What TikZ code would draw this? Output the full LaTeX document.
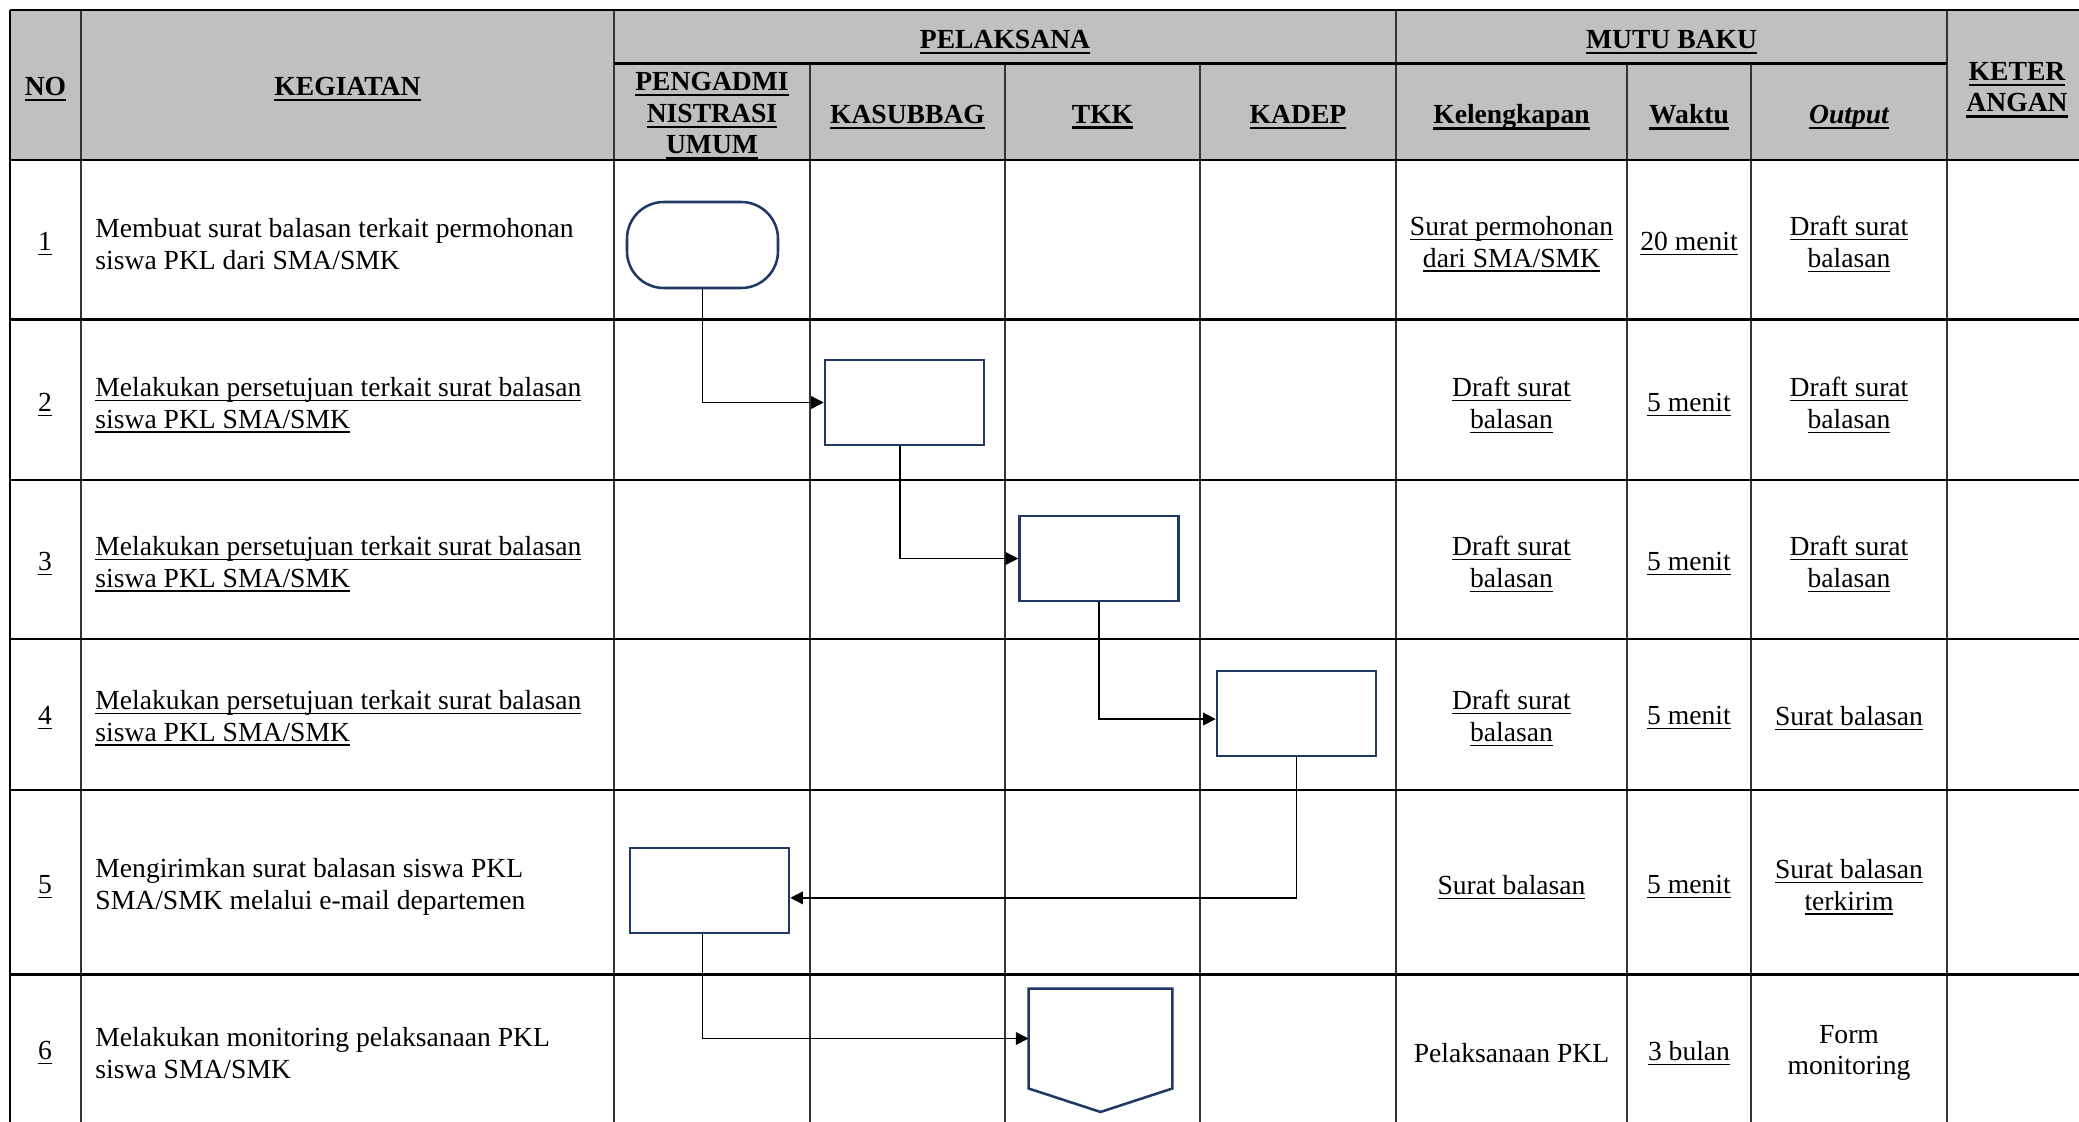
\documentclass[tikz,border=0pt]{standalone}
\usepackage{fontspec}
\setmainfont{Liberation Serif}
\usetikzlibrary{arrows.meta}
\definecolor{hdrgray}{RGB}{192,192,192}
\definecolor{navy}{RGB}{31,56,100}
\newcommand{\pu}{0.4348pt}
\newcommand{\ul}[1]{\setbox0\hbox{#1}\rlap{\rule[-1.9pt]{\wd0}{0.55pt}}\box0}
\newcommand{\ulb}[1]{\setbox0\hbox{#1}\rlap{\rule[-2.6pt]{\wd0}{1.1pt}}\box0}

\begin{document}
\begin{tikzpicture}[x=\pu, y=-\pu,
        hdr/.style={font=\fontsize{12}{13.8}\selectfont\bfseries, align=center, inner sep=0pt},
        cell/.style={font=\fontsize{12}{13.8}\selectfont, align=center, inner sep=0pt},
        act/.style={cell, anchor=west, align=left},
        shapeline/.style={draw=navy, line width=1.1pt, fill=white},
        procbox/.style={shapeline, rectangle, minimum width=159*\pu, minimum height=85*\pu, inner sep=0pt},
        termbox/.style={procbox, rounded corners=16pt, minimum width=151*\pu, minimum height=86*\pu},
        conn/.style={line width=0.6pt, -{Triangle[length=5.5pt, width=5.5pt]}},
        rowline/.style={line width=1.1pt},
        colline/.style={line width=0.5pt, black!80}
    ]
        \useasboundingbox (0,0) rectangle (2079,1121);
        \clip (0,0) rectangle (2079,1121);

        % table
        \fill[hdrgray] (10,10) rectangle (2095,160);
        \foreach \x in {81,614,1396,1947} \draw[colline] (\x,10) -- (\x,1130);
        \foreach \x in {810,1005,1200,1627,1751} \draw[colline] (\x,63.5) -- (\x,1130);
        \foreach \y in {10,160,319.5,480,639,790,974.5} \draw[rowline] (10,\y) -- (2095,\y);
        \draw[line width=0.9pt] (614,63.5) -- (1947,63.5);
        \draw[rowline] (10,10) -- (10,1130);

        % header
        \node[hdr] (hno)    at (45.5,89)  {\ulb{NO}};
        \node[hdr] (hkeg)   at (347.5,89) {\ulb{KEGIATAN}};
        \node[hdr] (hpel)   at (1005,42)  {\ulb{PELAKSANA}};
        \node[hdr] (hmutu)  at (1671.5,42) {\ulb{MUTU BAKU}};
        \node[hdr] (hket)   at (2017,90)  {\ulb{KETER}\\\ulb{ANGAN}};
        \node[hdr] (hpeng)  at (712,116)  {\ulb{PENGADMI}\\\ulb{NISTRASI}\\\ulb{UMUM}};
        \node[hdr] (hkasub) at (907.5,117) {\ulb{KASUBBAG}};
        \node[hdr] (htkk)   at (1102.5,117) {\ulb{TKK}};
        \node[hdr] (hkadep) at (1298,117) {\ulb{KADEP}};
        \node[hdr] (hkel)   at (1511.5,117) {\ulb{Kelengkapan}};
        \node[hdr] (hwak)   at (1689,117) {\ulb{Waktu}};
        \node[hdr] (hout)   at (1849,117) {\ulb{\itshape Output}};

        % row 1
        \node[cell] (no1)  at (45,244)   {\ul{1}};
        \node[act]  (keg1) at (95,244)   {Membuat surat balasan terkait permohonan\\siswa PKL dari SMA/SMK};
        \node[cell] (kel1) at (1511.5,244) {\ul{Surat permohonan}\\\ul{dari SMA/SMK}};
        \node[cell] (wak1) at (1689,244) {\ul{20 menit}};
        \node[cell] (out1) at (1849,244) {\ul{Draft surat}\\\ul{balasan}};
        % row 2
        \node[cell] (no2)  at (45,405)   {\ul{2}};
        \node[act]  (keg2) at (95,405)   {\ul{Melakukan persetujuan terkait surat balasan}\\\ul{siswa PKL SMA/SMK}};
        \node[cell] (kel2) at (1511.5,405) {\ul{Draft surat}\\\ul{balasan}};
        \node[cell] (wak2) at (1689,405) {\ul{5 menit}};
        \node[cell] (out2) at (1849,405) {\ul{Draft surat}\\\ul{balasan}};
        % row 3
        \node[cell] (no3)  at (45,564)   {\ul{3}};
        \node[act]  (keg3) at (95,564)   {\ul{Melakukan persetujuan terkait surat balasan}\\\ul{siswa PKL SMA/SMK}};
        \node[cell] (kel3) at (1511.5,564) {\ul{Draft surat}\\\ul{balasan}};
        \node[cell] (wak3) at (1689,564) {\ul{5 menit}};
        \node[cell] (out3) at (1849,564) {\ul{Draft surat}\\\ul{balasan}};
        % row 4
        \node[cell] (no4)  at (45,718)   {\ul{4}};
        \node[act]  (keg4) at (95,718)   {\ul{Melakukan persetujuan terkait surat balasan}\\\ul{siswa PKL SMA/SMK}};
        \node[cell] (kel4) at (1511.5,718) {\ul{Draft surat}\\\ul{balasan}};
        \node[cell] (wak4) at (1689,718) {\ul{5 menit}};
        \node[cell] (out4) at (1849,718) {\ul{Surat balasan}};
        % row 5
        \node[cell] (no5)  at (45,887)   {\ul{5}};
        \node[act]  (keg5) at (95,887)   {Mengirimkan surat balasan siswa PKL\\SMA/SMK melalui e-mail departemen};
        \node[cell] (kel5) at (1511.5,887) {\ul{Surat balasan}};
        \node[cell] (wak5) at (1689,887) {\ul{5 menit}};
        \node[cell] (out5) at (1849,887) {\ul{Surat balasan}\\\ul{terkirim}};
        % row 6
        \node[cell] (no6)  at (45,1053)  {\ul{6}};
        \node[act]  (keg6) at (95,1053)  {Melakukan monitoring pelaksanaan PKL\\siswa SMA/SMK};
        \node[cell] (kel6) at (1511.5,1053) {Pelaksanaan PKL};
        \node[cell] (wak6) at (1689,1053) {\ul{3 bulan}};
        \node[cell] (out6) at (1849,1053) {Form\\monitoring};

        % flow
        \node[termbox] (start) at (702.5,245) {};
        \node[procbox] (kasub) at (904.5,402.5) {};
        \node[procbox] (tkk)   at (1099,558.5) {};
        \node[procbox] (kadep) at (1296.5,713.5) {};
        \node[procbox] (kirim) at (709.5,890.5) {};
        \node[minimum width=143*\pu, minimum height=99*\pu, inner sep=0pt] (offpg) at (1100.5,1038.5) {};
        \draw[shapeline] (offpg.north west) -- (offpg.north east) -- (offpg.south east)
            -- ([yshift=-23.5*\pu]offpg.south) -- (offpg.south west) -- cycle;

        \draw[conn] (start.south) |- (kasub.west);
        \draw[conn] ([xshift=-2pt]kasub.south) |- (tkk.west);
        \draw[conn] (tkk.south)   |- ([yshift=-2.4pt]kadep.west);
        \draw[conn] (kadep.south) |- ([yshift=-3.2pt]kirim.east);
        \draw[conn] ([xshift=-3pt]kirim.south) |- (offpg.west);
    \end{tikzpicture}
\end{document}
